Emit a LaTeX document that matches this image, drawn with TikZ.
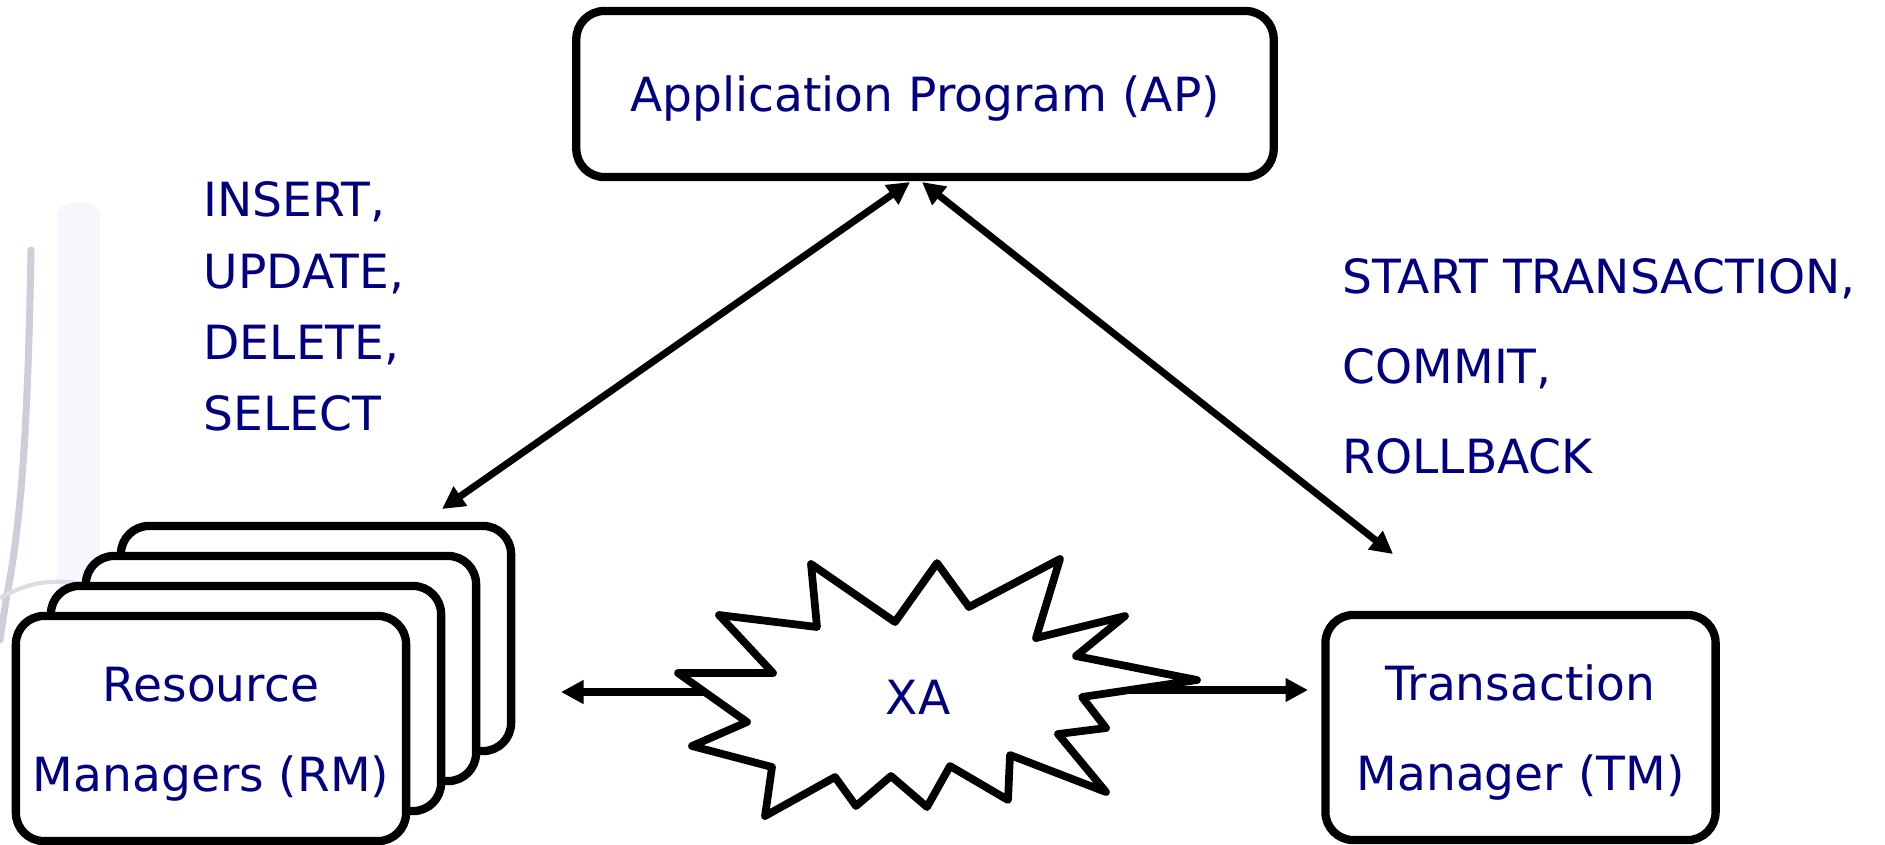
\documentclass[tikz,border=0pt]{standalone}
\usepackage{fontspec}
\setmainfont{DejaVu Sans}
\usetikzlibrary{arrows.meta}

\definecolor{labelblue}{RGB}{0,0,128}
\definecolor{markgray}{RGB}{204,206,216}
\definecolor{markband}{RGB}{246,247,252}

% lifts the first line of a box text a little
\newcommand{\capstrut}{\rule{0pt}{12.8pt}}

\tikzset{
  box/.style={draw=black, line width=2.36pt, rounded corners=8pt, fill=white,
    align=center, text=labelblue, inner sep=0pt,
    font=\fontsize{13.4}{25.6}\selectfont},
  mgrbox/.style={box, minimum width=3.9cm, minimum height=2.25cm},
  callout/.style={text=labelblue, align=left, anchor=north west, inner sep=0pt},
  onetip/.style={-{Triangle[length=6.4pt,width=6.4pt]}, line width=2.3pt},
  twotips/.style={{Triangle[length=6.4pt,width=6.4pt]}-{Triangle[length=6.4pt,width=6.4pt]}, line width=2pt},
}

\begin{document}
\begin{tikzpicture}[x=0.01cm, y=-0.01cm]
  % Offset between the stacked resource manager boxes
  \def\dx{35}
  \def\dy{-30}

  \useasboundingbox (0,0) rectangle (1885,844);

  % Faint watermark on the left
  \fill[markband] (57,215) to[out=90,in=90] (100,215) -- (100,600) -- (57,600) -- cycle;
  \draw[markgray, line width=2pt, line cap=round] (31,250) .. controls (28,420) and (22,520) .. (6,600) -- (0,640);
  \draw[markgray!70, line width=1.2pt] (0,598) .. controls (25,585) and (45,576) .. (95,586);

  % Application program
  \node[box, minimum width=6.97cm, minimum height=1.66cm] (ap) at (925,94) {\capstrut Application Program (AP)};

  % Stack of resource managers, back to front
  \foreach \k in {3,2,1} {
    \node[mgrbox] (rm\k) at (211+\k*\dx, 728.5+\k*\dy) {};
  }
  \node[mgrbox] (rm) at (211,728.5) {\capstrut Resource\\Managers (RM)};

  % Transaction manager
  \node[mgrbox] (tm) at (1520.5,727.5) {\capstrut Transaction\\Manager (TM)};

  % Statement labels
  \node[callout, font=\fontsize{13.4}{20.3}\selectfont] (sql) at (203,181)
    {INSERT,\\UPDATE,\\DELETE,\\SELECT};
  \node[callout, font=\fontsize{13.4}{25.6}\selectfont] (txn) at (1342,258)
    {START TRANSACTION,\\COMMIT,\\ROLLBACK};

  % XA interface
  \draw[line width=2.2pt, line join=round, fill=white]
    (811,564) -- (895,622) -- (937,563) -- (969,607) -- (1060,559) -- (1036,638)
    -- (1125,616) -- (1076,656) -- (1197,680) -- (1082,697) -- (1106,728)
    -- (1058,734) -- (1106,792) -- (1010,755) -- (1008,800) -- (950,766)
    -- (927,807) -- (891,776) -- (856,806) -- (835,777) -- (765,816)
    -- (772,767) -- (692,746) -- (747,722) -- (678,673) -- (773,673)
    -- (719,615) -- (817,627) -- cycle;
  \node[text=labelblue, font=\fontsize{13.4}{16}\selectfont] (xa) at (918,697) {XA};

  % Arrow end points
  \coordinate (apL) at (910,182);
  \coordinate (apR) at (922,182);
  \coordinate (rmIn) at (442,509);
  \coordinate (tmIn) at (1393,554);
  \coordinate (xaW) at (705,692);
  \coordinate (xaE) at (1130,690);
  \coordinate (rmOut) at (561,692);
  \coordinate (tmOut) at (1308,690);

  % Connections
  \draw[twotips] (apL) -- (rmIn);
  \draw[twotips] (apR) -- (tmIn);
  \draw[onetip] (xaW) -- (rmOut);
  \draw[onetip] (xaE) -- (tmOut);

\end{tikzpicture}
\end{document}
